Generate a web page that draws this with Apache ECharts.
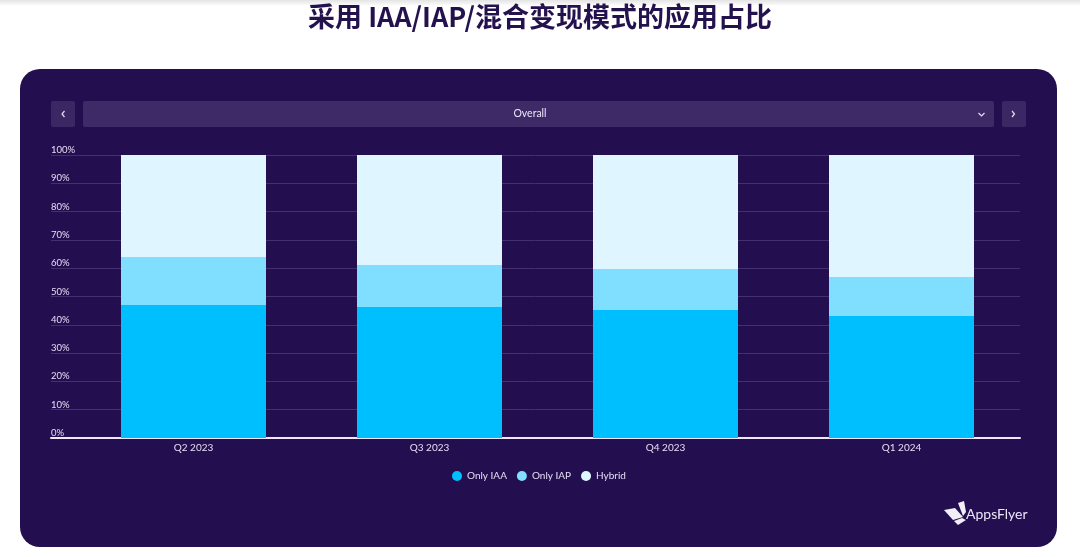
<!DOCTYPE html>
<html><head><meta charset="utf-8">
<style>html,body{margin:0;padding:0;background:#fff}#c{width:1080px;height:557px}</style>
<script src="https://cdn.jsdelivr.net/npm/echarts@6/dist/echarts.min.js"></script>
</head><body><div id="c"></div>
<script>
const categories = ['Q2 2023','Q3 2023','Q4 2023','Q1 2024'];
const onlyIAA = [47, 46.29, 45.23, 43.11];
const onlyIAP = [16.96, 14.84, 14.49, 13.78];
const hybrid = [36.04, 38.87, 40.28, 43.11];
const seriesNames = ['Only IAA','Only IAP','Hybrid'];
const seriesColors = ['#00BFFF','#80DEFF','#DFF5FF'];
const titleText = '采用 IAA/IAP/混合变现模式的应用占比';
const dropdownText = 'Overall';
const logoText = 'AppsFlyer';

const F = 'Lato, "Noto Sans", sans-serif';
const txt = '#E6DDF5';
const chart = echarts.init(document.getElementById('c'), null, {renderer:'canvas'});
const sVals = [onlyIAA, onlyIAP, hybrid];
chart.setOption({
  animation:false,
  backgroundColor:'#fff',
  title:{text:titleText,left:'center',top:-2,
    textStyle:{fontFamily:'"Noto Sans CJK SC"',fontSize:27,fontWeight:'bold',color:'#24124F'},itemGap:0},
  legend:{data:seriesNames,left:447,top:466,icon:'circle',itemWidth:10,itemHeight:10,itemGap:10,
    textStyle:{color:txt,fontFamily:F,fontSize:10}},
  grid:[{left:75.5,width:944,top:155,height:283},{left:51,width:969,top:155,height:283}],
  xAxis:[
    {type:'category',gridIndex:0,data:categories,
     axisLine:{show:false},axisTick:{show:false},
     axisLabel:{color:txt,fontFamily:F,fontSize:10,margin:5}},
    {type:'category',gridIndex:1,data:categories,
     axisLine:{show:true,lineStyle:{color:'#F0E6FA',width:2}},axisTick:{show:false},axisLabel:{show:false}}
  ],
  yAxis:[
    {type:'value',gridIndex:0,min:0,max:100,interval:10,show:false},
    {type:'value',gridIndex:1,min:0,max:100,interval:10,
     axisLine:{show:false},axisTick:{show:false},
     splitLine:{lineStyle:{color:'#43306E',width:1}},
     axisLabel:{inside:true,margin:0,align:'left',verticalAlign:'bottom',formatter:'{value}%',
       color:txt,fontFamily:F,fontSize:9.5}}
  ],
  series:seriesNames.map((n,i)=>({
    name:n,type:'bar',stack:'a',xAxisIndex:0,yAxisIndex:0,barWidth:145,
    data:sVals[i],itemStyle:{color:seriesColors[i]},z:5
  })),
  graphic:[
    {type:'rect',z:-10,silent:true,shape:{x:0,y:0,width:1080,height:5},
     style:{fill:new echarts.graphic.LinearGradient(0,0,0,1,[{offset:0,color:'#E4E4E4'},{offset:1,color:'#FAFAFA'}])}},
    {type:'rect',z:-10,silent:true,shape:{x:20,y:69,width:1037,height:478,r:20},style:{fill:'#230F4F'}},
    {type:'rect',z:-9,silent:true,shape:{x:51,y:101,width:24,height:26,r:2},style:{fill:'#3A2763'}},
    {type:'rect',z:-9,silent:true,shape:{x:83,y:101,width:911,height:26,r:2},style:{fill:'#3F2A68'}},
    {type:'rect',z:-9,silent:true,shape:{x:1002,y:101,width:24,height:26,r:2},style:{fill:'#3A2763'}},
    {type:'text',z:10,silent:true,style:{x:530,y:114,text:dropdownText,fill:'#EDE6F8',font:'10.5px '+F,align:'center',verticalAlign:'middle'}},
    {type:'polyline',z:10,silent:true,shape:{points:[[64.5,111],[62,114],[64.5,117]]},style:{stroke:'#E6DDF5',lineWidth:1.2,fill:'none'}},
    {type:'polyline',z:10,silent:true,shape:{points:[[1012,111],[1014.5,114],[1012,117]]},style:{stroke:'#E6DDF5',lineWidth:1.2,fill:'none'}},
    {type:'polyline',z:10,silent:true,shape:{points:[[978.5,113],[981.5,116],[984.5,113]]},style:{stroke:'#E6DDF5',lineWidth:1.2,fill:'none'}},
    {type:'polygon',z:10,silent:true,shape:{points:[[944,510],[955,508],[963,517],[953,520]]},style:{fill:'#F2EEF8'}},
    {type:'polygon',z:10,silent:true,shape:{points:[[958,503],[964,501],[966,512],[963,516]]},style:{fill:'#F2EEF8'}},
    {type:'polygon',z:10,silent:true,shape:{points:[[954,521],[962,518],[966,520],[958,525]]},style:{fill:'#F2EEF8'}},
    {type:'text',z:10,silent:true,style:{x:966,y:514,text:logoText,fill:'#EDE6F8',font:'14px Lato, sans-serif',align:'left',verticalAlign:'middle'}}
  ]
});
</script></body></html>
